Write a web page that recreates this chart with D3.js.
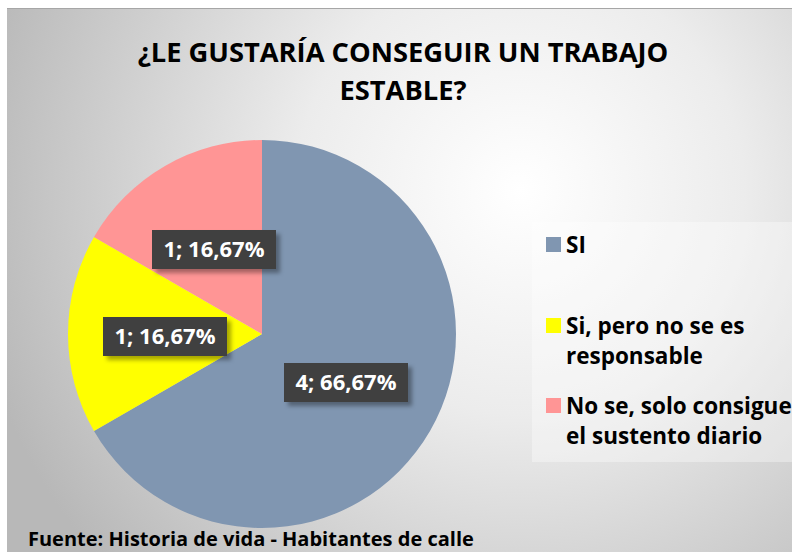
<!DOCTYPE html>
<html lang="es">
  <head>
    <meta charset="utf-8">
    <title>¿Le gustaría conseguir un trabajo estable?</title>
    <script src="https://cdn.jsdelivr.net/npm/d3@7"></script>
    <style>
      body { margin: 0; background: #fff; }
      text { font-family: "Open Sans", Lato, sans-serif; font-weight: bold; }
    </style>
  </head>
  <body>
    <script>
      // datos
      var categories = ["SI", "Si, pero no se es responsable", "No se, solo consigue el sustento diario"];
      var values = [4, 1, 1];
      var percentLabels = ["66,67%", "16,67%", "16,67%"];
      var colors = ["#8096b1", "#ffff00", "#ff9595"];
      var legendLines = [["SI"], ["Si, pero no se es", "responsable"], ["No se, solo consigue", "el sustento diario"]];

      var w = 792, h = 552;
      var cx = 262, cy = 334, radius = 194;

      var svg = d3.select("body").append("svg")
                  .attr("width", w)
                  .attr("height", h);

      var defs = svg.append("defs");
      var grad = defs.append("radialGradient")
                     .attr("id", "bg")
                     .attr("gradientUnits", "userSpaceOnUse")
                     .attr("cx", 520).attr("cy", 190).attr("r", 560);
      grad.append("stop").attr("offset", "0%").attr("stop-color", "#ffffff");
      grad.append("stop").attr("offset", "40%").attr("stop-color", "#ececec");
      grad.append("stop").attr("offset", "100%").attr("stop-color", "#b8b8b8");

      var shadow = defs.append("filter").attr("id", "shadow")
                       .attr("x", "-20%").attr("y", "-20%").attr("width", "150%").attr("height", "160%");
      shadow.append("feDropShadow").attr("dx", 4).attr("dy", 4).attr("stdDeviation", 2)
            .attr("flood-color", "#000").attr("flood-opacity", 0.35);

      // fondo del area del grafico
      svg.append("rect")
         .attr("x", 7).attr("y", 8)
         .attr("width", w - 7).attr("height", h - 8)
         .attr("fill", "url(#bg)");
      svg.append("line")
         .attr("x1", 7).attr("x2", w).attr("y1", 8.5).attr("y2", 8.5)
         .attr("stroke", "#a6a6a6").attr("stroke-width", 1);

      // titulo
      svg.append("text")
         .attr("text-anchor", "middle")
         .attr("font-size", 27.3)
         .attr("fill", "#000")
         .selectAll("tspan")
         .data(["¿LE GUSTARÍA CONSEGUIR UN TRABAJO", "ESTABLE?"])
         .enter().append("tspan")
         .attr("x", 403)
         .attr("y", function(d, i) { return 62 + i * 38; })
         .text(function(d) { return d; });

      // pastel
      var pie = d3.pie().sort(null).value(function(d) { return d; });
      var arc = d3.arc().innerRadius(0).outerRadius(radius);
      var arcs = pie(values);

      var g = svg.append("g").attr("transform", "translate(" + cx + "," + cy + ")");
      g.selectAll("path")
       .data(arcs)
       .enter().append("path")
       .attr("d", arc)
       .attr("fill", function(d, i) { return colors[i]; });

      // etiquetas de datos
      var labelPos = [[84, 48], [-97, 2], [-48, -85]];
      var labels = g.selectAll("g.lbl")
                    .data(arcs)
                    .enter().append("g")
                    .attr("class", "lbl")
                    .attr("transform", function(d, i) {
                      return "translate(" + labelPos[i][0] + "," + labelPos[i][1] + ")";
                    });
      labels.append("rect")
            .attr("x", -62).attr("y", -19)
            .attr("width", 124).attr("height", 39)
            .attr("fill", "#3f3f3f")
            .attr("filter", "url(#shadow)");
      labels.append("text")
            .attr("text-anchor", "middle")
            .attr("dy", "0.36em")
            .attr("font-size", 22)
            .attr("fill", "#fff")
            .text(function(d, i) { return values[i] + "; " + percentLabels[i]; });

      // leyenda
      svg.append("rect")
         .attr("x", 532).attr("y", 222)
         .attr("width", w - 532).attr("height", 240)
         .attr("fill", "#fff").attr("opacity", 0.35);

      var legendY = [253, 334, 414];
      var leg = svg.selectAll("g.leg")
                   .data(categories)
                   .enter().append("g")
                   .attr("class", "leg")
                   .attr("transform", function(d, i) { return "translate(546," + legendY[i] + ")"; });
      leg.append("rect")
         .attr("x", 0).attr("y", -16)
         .attr("width", 15).attr("height", 15)
         .attr("fill", function(d, i) { return colors[i]; });
      leg.append("text")
         .attr("font-size", 22.5)
         .attr("fill", "#000")
         .selectAll("tspan")
         .data(function(d, i) { return legendLines[i]; })
         .enter().append("tspan")
         .attr("x", 20)
         .attr("y", function(d, j) { return j * 30; })
         .text(function(d) { return d; });

      // fuente
      svg.append("text")
         .attr("x", 28).attr("y", 546)
         .attr("font-size", 20)
         .attr("fill", "#000")
         .text("Fuente: Historia de vida - Habitantes de calle");
    </script>
  </body>
</html>
